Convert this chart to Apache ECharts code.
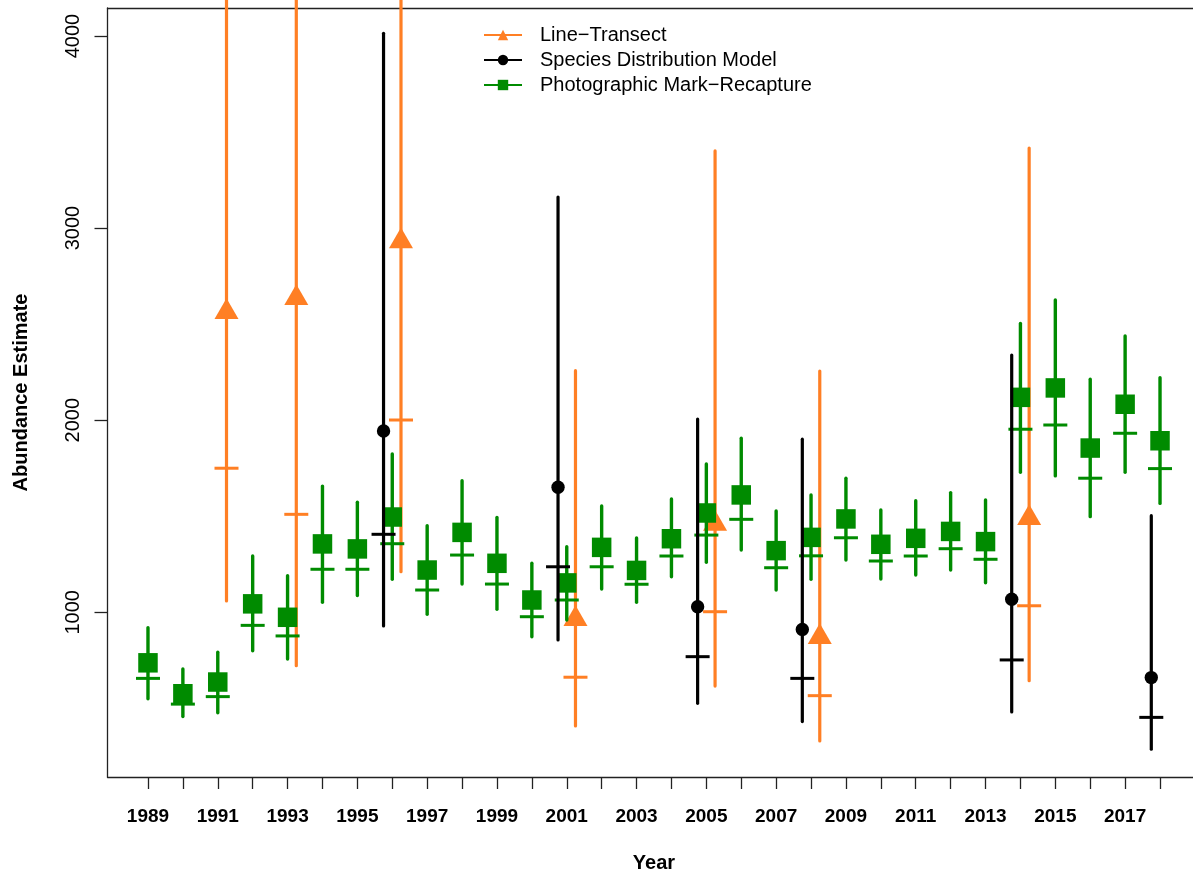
<!DOCTYPE html>
<html>
<head>
<meta charset="utf-8">
<script src="https://cdn.jsdelivr.net/npm/echarts@6/dist/echarts.min.js"></script>
<style>
html,body{margin:0;padding:0;background:#fff;}
#chart{width:1193px;height:873px;}
</style>
</head>
<body>
<div id="chart"></div>
<script>
// ---------- data ----------
const years = [1989,1990,1991,1992,1993,1994,1995,1996,1997,1998,1999,2000,2001,2002,2003,2004,2005,2006,2007,2008,2009,2010,2011,2012,2013,2014,2015,2016,2017,2018];
const xTickYears = years;
const xLabelYears = [1989,1991,1993,1995,1997,1999,2001,2003,2005,2007,2009,2011,2013,2015,2017];
const yTicks = [1000,2000,3000,4000];

// Photographic Mark-Recapture
const pmrEst = [737,576,637,1044,974,1356,1330,1496,1220,1416,1255,1064,1153,1338,1218,1383,1517,1611,1321,1390,1486,1354,1385,1421,1368,2119,2168,1855,2083,1893];
const pmrAlt = [656,522,561,932,877,1224,1224,1357,1116,1298,1147,977,1064,1237,1146,1293,1402,1484,1232,1294,1388,1267,1293,1331,1276,1953,1975,1698,1932,1748];
const pmrLo  = [550,457,477,800,757,1052,1087,1172,990,1147,1016,873,960,1121,1052,1185,1260,1324,1116,1172,1272,1173,1194,1220,1154,1729,1710,1498,1729,1567];
const pmrHi  = [920,705,792,1293,1190,1657,1573,1824,1451,1685,1494,1255,1341,1553,1387,1590,1772,1906,1527,1611,1698,1533,1581,1623,1585,2504,2626,2213,2438,2221];

// Species Distribution Model
const sdmYears = [1996,2001,2005,2008,2014,2018];
const sdmEst = [1944,1651,1029,911,1068,660];
const sdmAlt = [1406,1237,769,656,752,453];
const sdmLo  = [929,856,526,431,481,287];
const sdmHi  = [4014,3162,2006,1901,2339,1503];

// Line-Transect
const ltYears = [1991,1993,1996,2001,2005,2008,2014];
const ltEst = [2563,2636,2931,965,1461,871,1491];
const ltAlt = [1750,1510,2001,662,1003,566,1034];
const ltLo  = [1059,722,1211,408,616,330,644];
const ltHi  = [5400,5600,6300,2258,3402,2256,3417];

const seriesNames = ['Line\u2212Transect','Species Distribution Model','Photographic Mark\u2212Recapture'];

// ---------- style ----------
const ORANGE = '#FF7F24', GREEN = '#008B00', BLACK = '#000000';
const FONT = '"Liberation Sans", Arial, Helvetica, sans-serif';
const DODGE = 0.25;

function rows(yrs, est, alt, lo, hi, shift) {
  return yrs.map((y, i) => [y + shift, est[i], alt[i], lo[i], hi[i]]);
}

function makeRender(color, marker, lw) {
  return function (params, api) {
    const x = api.value(0);
    const pE = api.coord([x, api.value(1)]);
    const pA = api.coord([x, api.value(2)]);
    const pL = api.coord([x, api.value(3)]);
    const pH = api.coord([x, api.value(4)]);
    const kids = [
      {type:'line', shape:{x1:pL[0], y1:pL[1], x2:pH[0], y2:pH[1]},
       style:{stroke:color, lineWidth:lw, lineCap:'round'}},
      {type:'line', shape:{x1:pA[0]-12, y1:pA[1], x2:pA[0]+12, y2:pA[1]},
       style:{stroke:color, lineWidth:3, lineCap:'butt'}}
    ];
    const cx = pE[0], cy = pE[1];
    if (marker === 'square') {
      kids.push({type:'rect', shape:{x:cx-9.75, y:cy-9.75, width:19.5, height:19.5}, style:{fill:color}});
    } else if (marker === 'circle') {
      kids.push({type:'circle', shape:{cx:cx, cy:cy, r:6.7}, style:{fill:color}});
    } else {
      kids.push({type:'polygon', shape:{points:[[cx, cy-13.8],[cx+12, cy+6.9],[cx-12, cy+6.9]]}, style:{fill:color}});
    }
    return {type:'group', children:kids};
  };
}

const chart = echarts.init(document.getElementById('chart'), null, {renderer:'canvas'});
chart.setOption({
  backgroundColor:'#ffffff',
  animation:false,
  textStyle:{fontFamily:FONT},
  grid:{left:107.5, top:8, right:-7.5, bottom:96, outerBoundsMode:'none', containLabel:false, show:false},
  legend:{
    orient:'vertical', left:483, top:25, padding:0, itemWidth:38, itemHeight:13, itemGap:5,
    data:seriesNames,
    textStyle:{fontFamily:FONT, fontSize:20, color:'#000', lineHeight:20, padding:[0,0,0,13]}
  },
  xAxis:[{
    type:'value', min:1987.84, max:2019.16,
    name:'Year', nameLocation:'middle', nameGap:76,
    nameTextStyle:{fontFamily:FONT, fontSize:20, fontWeight:'bold', color:'#000'},
    axisLine:{show:true, lineStyle:{color:'#222', width:1.3}},
    axisTick:{show:true, length:12, lineStyle:{color:'#222', width:1.3}, customValues:xTickYears},
    axisLabel:{show:true, margin:30, fontFamily:FONT, fontSize:19, fontWeight:'bold', color:'#000', customValues:xLabelYears, formatter:v=>String(v)},
    splitLine:{show:false}
  },{
    // top edge of the plot box
    type:'value', position:'top', min:1987.84, max:2019.16,
    axisLine:{show:true, onZero:false, lineStyle:{color:'#222', width:1.3}},
    axisTick:{show:false}, axisLabel:{show:false}, splitLine:{show:false}
  }],
  yAxis:{
    type:'value', min:142.6, max:4145.8,
    name:'Abundance Estimate', nameLocation:'middle', nameGap:76, nameRotate:90,
    nameTextStyle:{fontFamily:FONT, fontSize:20, fontWeight:'bold', color:'#000'},
    axisLine:{show:true, lineStyle:{color:'#222', width:1.3}},
    axisTick:{show:true, length:13, lineStyle:{color:'#222', width:1.3}, customValues:yTicks},
    axisLabel:{show:true, rotate:90, margin:24, fontFamily:FONT, fontSize:20, color:'#000', customValues:yTicks, formatter:v=>String(v)},
    splitLine:{show:false}
  },
  series:[
    // legend keys (line + symbol, as in the R legend); empty, so they draw nothing in the plot
    {type:'line', name:seriesNames[0], data:[], symbol:'triangle', itemStyle:{color:ORANGE}, lineStyle:{color:ORANGE, width:1.5}},
    {type:'line', name:seriesNames[1], data:[], symbol:'circle', itemStyle:{color:BLACK}, lineStyle:{color:BLACK, width:1.5}},
    {type:'line', name:seriesNames[2], data:[], symbol:'rect', itemStyle:{color:GREEN}, lineStyle:{color:GREEN, width:1.5}},
    // estimates with intervals
    {type:'custom', id:'lt', renderItem:makeRender(ORANGE,'triangle',3.2),
     data:rows(ltYears, ltEst, ltAlt, ltLo, ltHi, DODGE), encode:{x:0, y:1}, clip:false, silent:true, z:2},
    {type:'custom', id:'pmr', renderItem:makeRender(GREEN,'square',3.4),
     data:rows(years, pmrEst, pmrAlt, pmrLo, pmrHi, 0), encode:{x:0, y:1}, clip:false, silent:true, z:3},
    {type:'custom', id:'sdm', renderItem:makeRender(BLACK,'circle',3.2),
     data:rows(sdmYears, sdmEst, sdmAlt, sdmLo, sdmHi, -DODGE), encode:{x:0, y:1}, clip:false, silent:true, z:4}
  ]
});
</script>
</body>
</html>
